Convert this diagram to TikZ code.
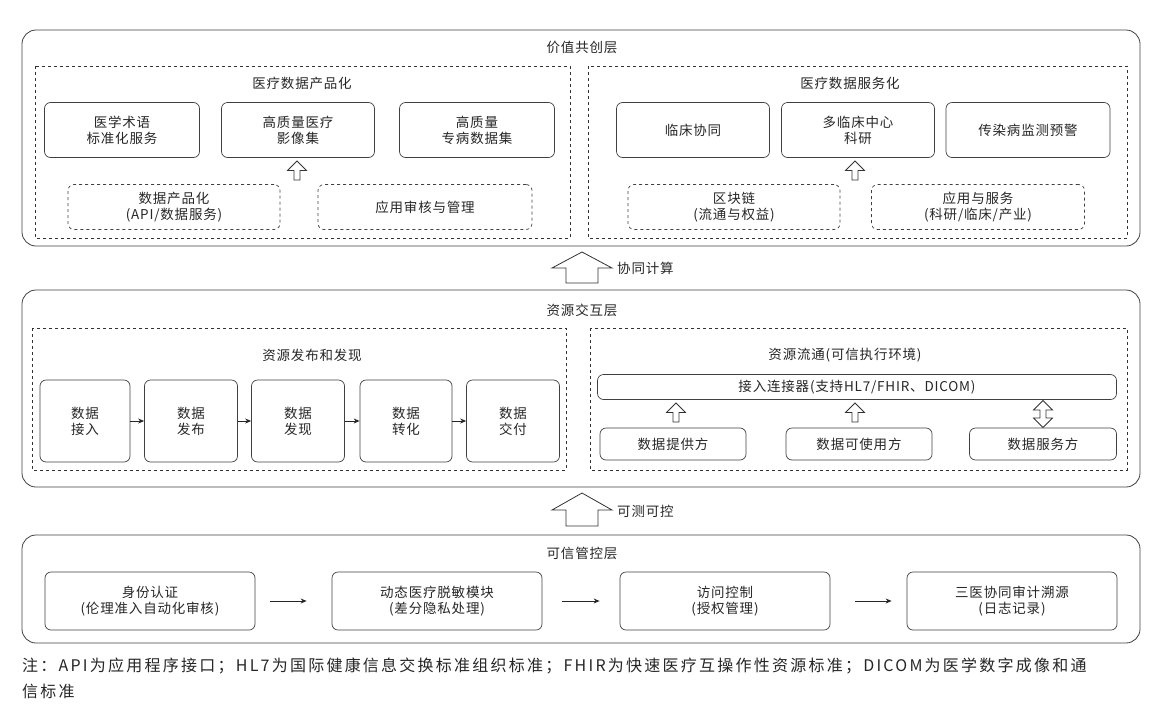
\documentclass[tikz,border=0pt]{standalone}
\usepackage{fontspec}
\setmainfont{Noto Sans CJK SC}
\usetikzlibrary{shapes.arrows,arrows.meta}
\begin{document}
\begin{tikzpicture}[x=1pt,y=-1pt,
  font=\fontsize{13.5}{16}\selectfont\addfontfeature{LetterSpace=6},
  every node/.style={text=black!85, align=center, inner sep=0pt},
  layer/.style={draw=black!75, line width=0.8pt, rounded corners=14pt},
  grp/.style={draw=black!80, dashed, line width=0.8pt},
  box/.style={draw=black!75, line width=0.7pt, rounded corners=6pt},
  dbox/.style={draw=black!75, dashed, line width=0.7pt, rounded corners=6pt},
  hollow/.style={draw=black!80, line width=0.8pt, fill=white, single arrow, shape border rotate=90, single arrow head extend=5pt, minimum width=19pt, minimum height=19pt, inner sep=2pt},
  big/.style={draw=black!80, line width=0.8pt, fill=white},
  conn/.style={-{Stealth[length=6pt,width=5pt]}, line width=0.9pt, black!85}]
\useasboundingbox (0,0) rectangle (1164,718);
% ---------- top layer
\draw[layer] (22,30) rectangle (1140,246);
\node (t1) at (582,47) {价值共创层};
\draw[grp] (35,66) rectangle (570,238);
\node (g1) at (302,83) {医疗数据产品化};
\node[box,minimum width=155,minimum height=55] (a1) at (122,130) {医学术语\\标准化服务};
\node[box,minimum width=153,minimum height=55] (a2) at (298,130) {高质量医疗\\影像集};
\node[box,minimum width=155,minimum height=55] (a3) at (477,130) {高质量\\专病数据集};
\node[dbox,minimum width=212,minimum height=45] (a4) at (174,207) {数据产品化\\(API/数据服务)};
\node[dbox,minimum width=214,minimum height=45] (a5) at (425,207) {应用审核与管理};
\node[hollow] (ha) at (297,172) {};
\draw[grp] (588,66) rectangle (1127,238);
\node (g2) at (850,83) {医疗数据服务化};
\node[box,minimum width=153,minimum height=55] (b1) at (693,130) {临床协同};
\node[box,minimum width=153,minimum height=55] (b2) at (858,130) {多临床中心\\科研};
\node[box,minimum width=164,minimum height=55] (b3) at (1028,130) {传染病监测预警};
\node[dbox,minimum width=212,minimum height=45] (b4) at (734,207) {区块链\\(流通与权益)};
\node[dbox,minimum width=213,minimum height=45] (b5) at (978,207) {应用与服务\\(科研/临床/产业)};
\node[hollow] (hb) at (855,172) {};
% ---------- between
\draw[big] (566,283) -- (566,268) -- (552,268) -- (582,252) -- (612,268) -- (598,268) -- (598,283) -- cycle;
\node[anchor=west] (l1) at (617,268) {协同计算};
% ---------- middle layer
\draw[layer] (22,290) rectangle (1140,487);
\node (t2) at (582,310) {资源交互层};
\draw[grp] (32,328) rectangle (566,470);
\node (g3) at (312,355) {资源发布和发现};
\node[box,minimum width=90,minimum height=82] (c1) at (85,421) {数据\\接入};
\node[box,minimum width=93,minimum height=82] (c2) at (191,421) {数据\\发布};
\node[box,minimum width=93,minimum height=82] (c3) at (298,421) {数据\\发现};
\node[box,minimum width=92,minimum height=82] (c4) at (406,421) {数据\\转化};
\node[box,minimum width=93,minimum height=82] (c5) at (513,421) {数据\\交付};
\draw[conn] (c1) -- (c2);
\draw[conn] (c2) -- (c3);
\draw[conn] (c3) -- (c4);
\draw[conn] (c4) -- (c5);
\draw[grp] (590,328) rectangle (1127,470);
\node (g4) at (845,355) {资源流通(可信执行环境)};
\node[box,minimum width=519,minimum height=25] (d0) at (857,387) {接入连接器(支持HL7/FHIR、DICOM)};
\node[box,minimum width=146,minimum height=32] (d1) at (673,444) {数据提供方};
\node[box,minimum width=146,minimum height=32] (d2) at (859,444) {数据可使用方};
\node[box,minimum width=147,minimum height=32] (d3) at (1043,444) {数据服务方};
\node[hollow] (hd1) at (676,414) {};
\node[hollow] (hd2) at (855,414) {};
\node[draw=black!80, line width=0.8pt, fill=white, double arrow, shape border rotate=90, double arrow head extend=5pt, minimum width=19pt, minimum height=27pt, inner sep=2pt] (hd3) at (1043,414) {};
% ---------- between
\draw[big] (566,526) -- (566,510) -- (552,510) -- (582,493) -- (612,510) -- (598,510) -- (598,526) -- cycle;
\node[anchor=west] (l2) at (617,511) {可测可控};
% ---------- bottom layer
\draw[layer] (22,535) rectangle (1140,643);
\node (t3) at (582,553) {可信管控层};
\node[box,minimum width=210,minimum height=58] (e1) at (150,601) {身份认证\\(伦理准入自动化审核)};
\node[box,minimum width=210,minimum height=58] (e2) at (437,601) {动态医疗脱敏模块\\(差分隐私处理)};
\node[box,minimum width=210,minimum height=58] (e3) at (725,601) {访问控制\\(授权管理)};
\node[box,minimum width=210,minimum height=58] (e4) at (1012,601) {三医协同审计溯源\\(日志记录)};
\draw[conn,shorten <=15pt,shorten >=25pt] (e1) -- (e2);
\draw[conn,shorten <=20pt,shorten >=20pt] (e2) -- (e3);
\draw[conn,shorten <=25pt,shorten >=15pt] (e3) -- (e4);
% ---------- note
\node[anchor=west,font=\fontsize{16}{18}\selectfont\addfontfeature{LetterSpace=14}] (n1) at (22,666) {注：API为应用程序接口；HL7为国际健康信息交换标准组织标准；FHIR为快速医疗互操作性资源标准；DICOM为医学数字成像和通};
\node[anchor=west,font=\fontsize{16}{18}\selectfont\addfontfeature{LetterSpace=14}] (n2) at (22,691) {信标准};
\end{tikzpicture}
\end{document}
